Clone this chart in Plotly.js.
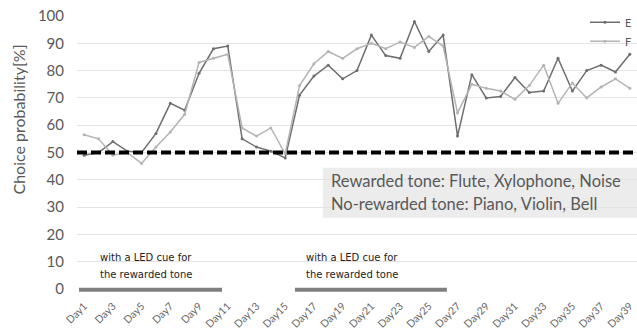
<!DOCTYPE html>
<html>
<head>
<meta charset="utf-8">
<script src="https://cdn.plot.ly/plotly-3.0.1.min.js"></script>
<style>html,body{margin:0;padding:0;background:#fff;}#chart{width:637px;height:333px;}</style>
</head>
<body>
<div id="chart"></div>
<script>
var days = [];
for (var i = 1; i <= 39; i++) days.push('Day' + i);
var tickLabels = ['Day1','Day3','Day5','Day7','Day9','Day11','Day13','Day15','Day17','Day19','Day21','Day23','Day25','Day27','Day29','Day31','Day33','Day35','Day37','Day39'];

var seriesE = [49, 50, 54, 50.5, 50, 57, 68, 65.5, 79, 88, 89, 55, 52, 50.5, 48, 71, 78, 82, 77, 80, 93, 85.5, 84.5, 98, 87, 93, 56, 78.5, 70, 70.5, 77.5, 72, 72.5, 84.5, 72.5, 80, 82, 79.5, 86];
var seriesF = [56.5, 55, 49, 50, 46, 52, 57.5, 64, 83, 84.5, 86, 59, 56, 59, 49.5, 74.5, 82.5, 87, 84.5, 88, 90, 88, 90.5, 88.5, 92.5, 89, 64.5, 75, 73.5, 72.5, 69.5, 74.5, 82, 68, 75.5, 70, 74, 77, 73.5];

var chanceLevel = 50;

var traces = [
  {x: days, y: seriesE, name: 'E', type: 'scatter', mode: 'lines+markers',
   line: {color: '#6e6e6e', width: 1.5}, marker: {size: 3, color: '#6e6e6e'}},
  {x: days, y: seriesF, name: 'F', type: 'scatter', mode: 'lines+markers',
   line: {color: '#b4b4b4', width: 1.5}, marker: {size: 3, color: '#b4b4b4'}}
];

var ledColor = '#7f7f7f';
var layout = {
  width: 637, height: 333,
  margin: {l: 77, r: 0, t: 16, b: 44},
  paper_bgcolor: '#fff', plot_bgcolor: '#fff',
  font: {family: 'Lato, "Open Sans", sans-serif', color: '#595959'},
  showlegend: true,
  legend: {x: 1, xanchor: 'right', y: 1.03, yanchor: 'top', bgcolor: 'rgba(0,0,0,0)',
           font: {size: 11, color: '#595959'}, itemwidth: 30, tracegroupgap: 0},
  xaxis: {type: 'category', range: [-0.5, 38.5], tickmode: 'array', tickvals: tickLabels, ticktext: tickLabels,
          tickangle: -45, tickfont: {size: 10.5, color: '#666'}, showgrid: false, zeroline: false,
          showline: false, ticks: '', ticklabelstandoff: 8, fixedrange: true},
  yaxis: {range: [0, 100], dtick: 10, tickfont: {size: 15, color: '#595959'}, gridcolor: '#e3e3e3', gridwidth: 1,
          zeroline: false, showline: false, ticks: '', ticklen: 0, ticklabelstandoff: 12, fixedrange: true},
  shapes: [
    {type: 'rect', xref: 'paper', yref: 'y', x0: 0.439, x1: 1, y0: 26.1, y1: 44.4,
     fillcolor: '#ececec', line: {width: 0}, layer: 'below'},
    {type: 'line', xref: 'paper', yref: 'y', x0: 0, x1: 1, y0: chanceLevel, y1: chanceLevel,
     line: {color: '#000', width: 4, dash: '10px,4px'}},
    {type: 'line', xref: 'x', yref: 'paper', x0: -0.36, x1: 9.6, y0: -0.003, y1: -0.003,
     line: {color: ledColor, width: 4}},
    {type: 'line', xref: 'x', yref: 'paper', x0: 14.68, x1: 25.26, y0: -0.003, y1: -0.003,
     line: {color: ledColor, width: 4}}
  ],
  annotations: [
    {xref: 'paper', yref: 'paper', x: -0.104, y: 0.62, xanchor: 'center', yanchor: 'middle',
     text: 'Choice probability[%]', textangle: -90, showarrow: false, font: {size: 16, color: '#595959'}},
    {xref: 'paper', yref: 'y', x: (329-77)/560, y: 39.4, xanchor: 'left', yanchor: 'middle', showarrow: false,
     text: 'Rewarded tone: Flute, Xylophone, Noise', font: {size: 16.5, color: '#595959'}},
    {xref: 'paper', yref: 'y', x: (329-77)/560, y: 31.0, xanchor: 'left', yanchor: 'middle', showarrow: false,
     text: 'No-rewarded tone: Piano, Violin, Bell', font: {size: 16.5, color: '#595959'}},
    {xref: 'paper', yref: 'y', x: (98-77)/560, y: 11.4, xanchor: 'left', yanchor: 'middle', showarrow: false,
     text: 'with a LED cue for', font: {family: 'DejaVu Sans', size: 10, color: '#222'}},
    {xref: 'paper', yref: 'y', x: (98-77)/560, y: 5.2, xanchor: 'left', yanchor: 'middle', showarrow: false,
     text: 'the rewarded tone', font: {family: 'DejaVu Sans', size: 10, color: '#222'}},
    {xref: 'paper', yref: 'y', x: (304-77)/560, y: 11.4, xanchor: 'left', yanchor: 'middle', showarrow: false,
     text: 'with a LED cue for', font: {family: 'DejaVu Sans', size: 10, color: '#222'}},
    {xref: 'paper', yref: 'y', x: (304-77)/560, y: 5.2, xanchor: 'left', yanchor: 'middle', showarrow: false,
     text: 'the rewarded tone', font: {family: 'DejaVu Sans', size: 10, color: '#222'}}
  ]
};

Plotly.newPlot('chart', traces, layout, {staticPlot: true, displayModeBar: false});
</script>
</body>
</html>
